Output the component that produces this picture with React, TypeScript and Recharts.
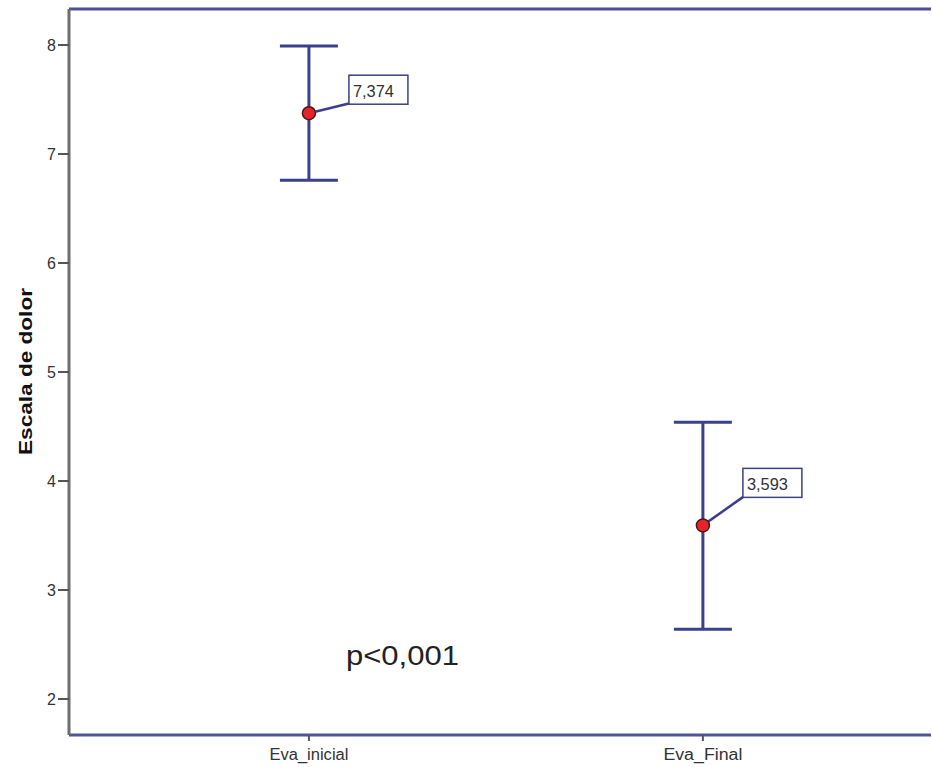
import { ComposedChart, Scatter, ErrorBar, XAxis, YAxis, ReferenceLine } from 'recharts';

const groups = ['Eva_inicial', 'Eva_Final'];
const means = [7.374, 3.593];
const upper = [7.99, 4.54];
const lower = [6.76, 2.64];
const meanLabels = ['7,374', '3,593'];
const yTicks = [2, 3, 4, 5, 6, 7, 8];

const data = groups.map((name, i) => ({
  x: i + 1,
  idx: i,
  name,
  mean: means[i],
  err: [means[i] - lower[i], upper[i] - means[i]],
}));

const BLUE = '#3b3f8e';
const INK = '#333333';

// callout box placement relative to the dot (box left, box top)
const calloutOffsets = [
  { dx: 40, dy: -38 },
  { dx: 40, dy: -57 },
];

const MeanShape = (props: any) => {
  const { cx, cy, payload } = props;
  const off = calloutOffsets[payload.idx];
  const bx = cx + off.dx;
  const by = cy + off.dy;
  return (
    <g>
      <line x1={cx} y1={cy} x2={bx + 1} y2={by + 28} stroke={BLUE} strokeWidth={2.5} />
      <rect x={bx} y={by} width={59} height={29} fill="#fff" stroke="#3d4280" strokeWidth={1.5} />
      <text
        x={bx + 4}
        y={by + 22}
        fontFamily="Liberation Sans, Arial, sans-serif"
        fontSize={17}
        fill={INK}
        textLength={41}
        lengthAdjust="spacingAndGlyphs"
      >
        {meanLabels[payload.idx]}
      </text>
      <circle cx={cx} cy={cy} r={6.5} fill="#e8222b" stroke="#4a1a1a" strokeWidth={1.5} />
    </g>
  );
};

const XTick = (props: any) => {
  const { x, y, payload } = props;
  return (
    <text
      x={x}
      y={y + 17}
      textAnchor="middle"
      fontFamily="Liberation Sans, Arial, sans-serif"
      fontSize={16}
      fill={INK}
      textLength={79}
      lengthAdjust="spacingAndGlyphs"
    >
      {groups[payload.value - 1]}
    </text>
  );
};

const YTick = (props: any) => {
  const { x, y, payload } = props;
  return (
    <text
      x={x}
      y={y + 6}
      textAnchor="end"
      fontFamily="Liberation Sans, Arial, sans-serif"
      fontSize={16}
      fill={INK}
    >
      {payload.value}
    </text>
  );
};

export default function App() {
  return (
    <div style={{ position: 'absolute', left: 0, top: 0, width: 932, height: 767, background: '#fff' }}>
      <ComposedChart width={932} height={767} data={data} margin={{ top: 9, right: 1, bottom: 0, left: 0 }}>
        <XAxis
          type="number"
          dataKey="x"
          domain={[0.391, 2.579]}
          ticks={[1, 2]}
          allowDataOverflow
          height={32}
          tickSize={6}
          axisLine={{ stroke: '#50549a', strokeWidth: 3 }}
          tickLine={{ stroke: '#555', strokeWidth: 2 }}
          tick={<XTick />}
        />
        <YAxis
          type="number"
          domain={[1.67, 8.33]}
          ticks={yTicks}
          allowDataOverflow
          width={69}
          tickSize={11}
          axisLine={{ stroke: '#6e6e6e', strokeWidth: 3 }}
          tickLine={{ stroke: '#555', strokeWidth: 2 }}
          tick={<YTick />}
        />
        <ReferenceLine y={8.33} stroke="#4b4f9c" strokeWidth={3} />
        <Scatter dataKey="mean" shape={<MeanShape />} isAnimationActive={false}>
          <ErrorBar dataKey="err" direction="y" width={29} stroke={BLUE} strokeWidth={3} />
        </Scatter>
      </ComposedChart>
      <svg
        width={932}
        height={767}
        style={{ position: 'absolute', left: 0, top: 0, pointerEvents: 'none' }}
      >
        <text
          transform="translate(32, 371.5) rotate(-90)"
          textAnchor="middle"
          fontFamily="Liberation Sans, Arial, sans-serif"
          fontWeight="bold"
          fontSize={19}
          fill="#111"
          textLength={167}
          lengthAdjust="spacingAndGlyphs"
        >
          Escala de dolor
        </text>
        <text
          x={346}
          y={665}
          fontFamily="Liberation Sans, Arial, sans-serif"
          fontSize={27}
          fill="#222"
          textLength={113}
          lengthAdjust="spacingAndGlyphs"
        >
          p&lt;0,001
        </text>
      </svg>
    </div>
  );
}
